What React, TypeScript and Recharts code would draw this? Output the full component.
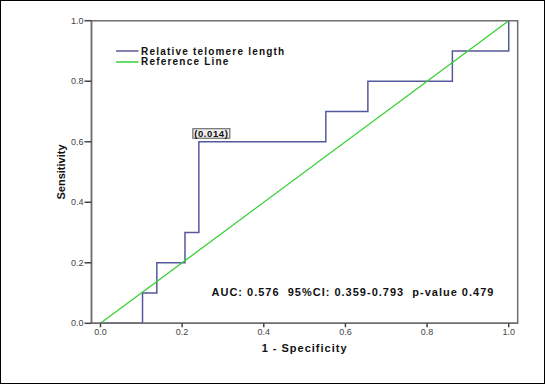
import React from 'react';
import {
  ComposedChart, Line, XAxis, YAxis, Legend, ReferenceArea, ReferenceDot,
} from 'recharts';

// ROC curve (1 - specificity, sensitivity)
const fpr = [0, 0.103, 0.103, 0.138, 0.138, 0.207, 0.207, 0.241, 0.241, 0.552, 0.552, 0.655, 0.655, 0.862, 0.862, 1, 1];
const tpr = [0, 0, 0.1, 0.1, 0.2, 0.2, 0.3, 0.3, 0.6, 0.6, 0.7, 0.7, 0.8, 0.8, 0.9, 0.9, 1];
const refX = [0, 1];
const refY = [0, 1];
const seriesNames = ['Relative telomere length', 'Reference Line'];
const xTicks = [0, 0.2, 0.4, 0.6, 0.8, 1];
const yTicks = [0, 0.2, 0.4, 0.6, 0.8, 1];
const cutoff = { x: 0.241, y: 0.6, label: '(0.014)' };
const statsText = 'AUC: 0.576  95%CI: 0.359-0.793  p-value 0.479';
const statsPos = { x: 0.272, y: 0.103 };

const FONT = '"Liberation Sans", Arial, sans-serif';
const ROC_COLOR = '#55589c';
const REF_COLOR = '#36d136';
const FRAME = '#6f6f6f';

const roc = fpr.map((x, i) => ({ x, y: tpr[i] }));
const ref = refX.map((x, i) => ({ x, y: refY[i] }));

function LegendBox(props: any) {
  // keep the order the series are declared in, not alphabetical
  const items = [...(props.payload || [])].sort(
    (a: any, b: any) => seriesNames.indexOf(a.value) - seriesNames.indexOf(b.value),
  );
  return (
    <div style={{ fontFamily: FONT, fontSize: 10, fontWeight: 700, letterSpacing: 1.2, color: '#111' }}>
      {items.map((it: any) => (
        <div key={it.value} style={{ display: 'flex', alignItems: 'center', height: 10.5, whiteSpace: 'nowrap' }}>
          <svg width={25} height={4} style={{ display: 'block' }}>
            <line x1={0} y1={2} x2={22.5} y2={2} stroke={it.color} strokeWidth={1.5} />
          </svg>
          <span>{it.value}</span>
        </div>
      ))}
    </div>
  );
}

function CutoffLabel(props: any) {
  const { viewBox } = props;
  const x = viewBox.x - 6;
  const y = viewBox.y - 13;
  return (
    <g>
      <rect x={x} y={y} width={37} height={9.5} fill="#eeeeee" stroke="#555" strokeWidth={1} />
      <text x={x + 18.5} y={y + 8} textAnchor="middle" fontFamily={FONT} fontSize={9.5}
        fontWeight={700} letterSpacing={0.6} fill="#111">{cutoff.label}</text>
    </g>
  );
}

function StatsLabel(props: any) {
  const { viewBox } = props;
  return (
    <text x={viewBox.x} y={viewBox.y + 4} fontFamily={FONT} fontSize={11} fontWeight={700}
      letterSpacing={1} fill="#111" style={{ whiteSpace: 'pre' }}>{statsText}</text>
  );
}

export default function App() {
  return (
    <div style={{ position: 'absolute', left: 0, top: 0, width: 545, height: 384, background: '#fff' }}>
      <ComposedChart width={545} height={384} margin={{ top: 20.7, right: 27.3, bottom: 1, left: 0 }}
        style={{ fontFamily: FONT }}>
        <XAxis type="number" dataKey="x" domain={[-0.022, 1.022]} allowDataOverflow ticks={xTicks}
          tickFormatter={(v: number) => v.toFixed(1)} height={59.7}
          tick={{ fontSize: 9, fill: '#444' }} tickSize={4} tickMargin={1}
          axisLine={{ stroke: FRAME, strokeWidth: 1.5 }} tickLine={{ stroke: '#444', strokeWidth: 1.5 }}
          label={{ value: '1 - Specificity', position: 'center', dy: -5, fontSize: 11, fontWeight: 700, fill: '#111', letterSpacing: 1 }} />
        <YAxis type="number" dataKey="y" domain={[0, 1]} allowDataOverflow ticks={yTicks}
          tickFormatter={(v: number) => v.toFixed(1)} width={91.5}
          tick={{ fontSize: 9, fill: '#444' }} tickSize={7} tickMargin={1}
          axisLine={{ stroke: FRAME, strokeWidth: 1.5 }} tickLine={{ stroke: '#444', strokeWidth: 1.5 }}
          label={{ value: 'Sensitivity', angle: -90, position: 'center', dx: 15, fontSize: 11, fontWeight: 700, fill: '#111' }} />
        <ReferenceArea x1={-0.022} x2={1.022} y1={0} y2={1} fill="none" stroke={FRAME} strokeWidth={1.5} ifOverflow="visible" />
        <Legend layout="vertical" align="center" verticalAlign="middle" content={LegendBox}
          wrapperStyle={{ left: 116, top: 46, width: 220 }} />
        <Line data={roc} dataKey="y" name={seriesNames[0]} type="linear" stroke={ROC_COLOR}
          strokeWidth={1.5} dot={false} isAnimationActive={false} />
        <Line data={ref} dataKey="y" name={seriesNames[1]} type="linear" stroke={REF_COLOR}
          strokeWidth={1.3} dot={false} isAnimationActive={false} />
        <ReferenceDot x={cutoff.x} y={cutoff.y} r={0} fill="none" stroke="none" label={<CutoffLabel />} ifOverflow="visible" />
        <ReferenceDot x={statsPos.x} y={statsPos.y} r={0} fill="none" stroke="none" label={<StatsLabel />} ifOverflow="visible" />
      </ComposedChart>
      <div style={{ position: 'absolute', inset: 0, border: '1.5px solid #000', pointerEvents: 'none' }} />
    </div>
  );
}
